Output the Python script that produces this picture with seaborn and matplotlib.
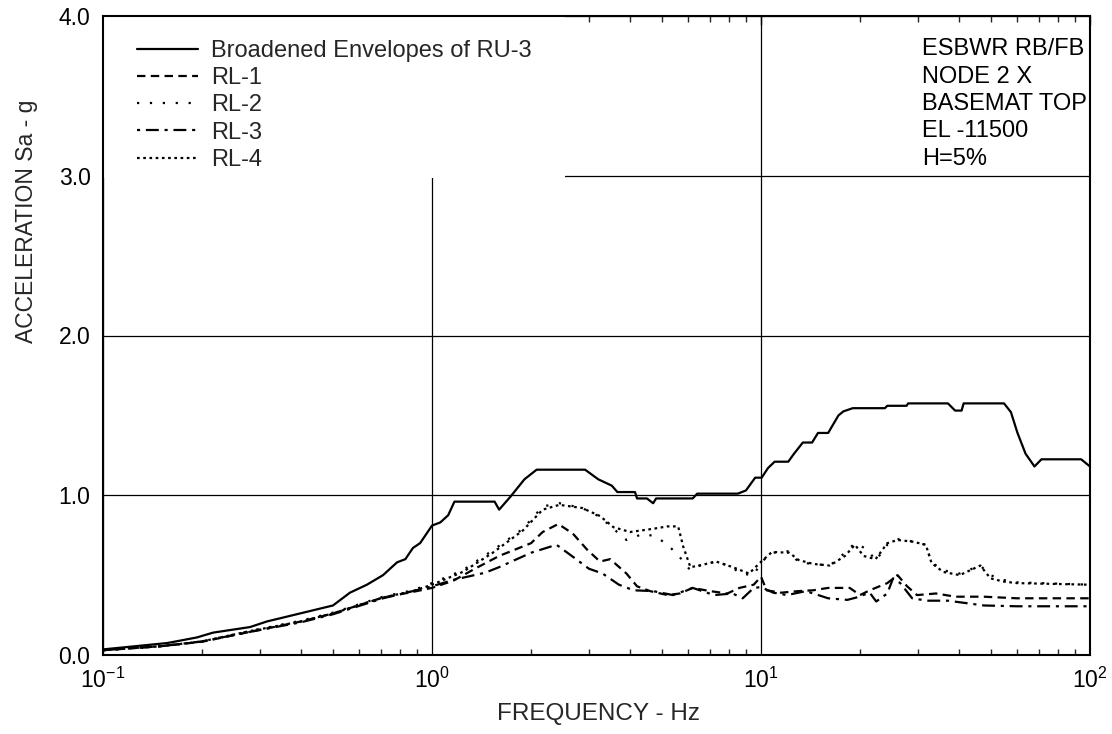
import numpy as np
import matplotlib
matplotlib.use("Agg")
import matplotlib.pyplot as plt
from matplotlib.patches import Rectangle
import seaborn as sns

# ---------------- data ----------------
ru3_freq = [0.1, 0.157, 0.193, 0.216, 0.28, 0.315, 0.397, 0.5, 0.563, 0.634, 0.71, 0.783, 0.83,
            0.875, 0.92, 1.0, 1.06, 1.12, 1.17, 1.55, 1.6, 1.73, 1.91, 2.08, 2.92, 3.2, 3.52, 3.66,
            4.14, 4.2, 4.5, 4.7, 4.8, 6.2, 6.4, 8.5, 9.0, 9.6, 10.05, 10.5, 11.0, 12.1, 12.6, 13.4,
            14.3, 14.9, 16.0, 17.2, 17.8, 19.0, 23.8, 24.2, 27.7, 28.0, 37.0, 38.9, 40.7, 41.3,
            54.8, 57.5, 60.2, 63.7, 67.8, 71.2, 94.0, 100.0]
ru3_acc = [0.035, 0.075, 0.11, 0.14, 0.175, 0.21, 0.26, 0.31, 0.39, 0.44, 0.50, 0.58, 0.60,
           0.67, 0.70, 0.81, 0.83, 0.875, 0.96, 0.96, 0.91, 0.99, 1.10, 1.16, 1.16, 1.10, 1.06, 1.02,
           1.02, 0.98, 0.98, 0.95, 0.98, 0.98, 1.01, 1.01, 1.03, 1.11, 1.11, 1.17, 1.21, 1.21, 1.26, 1.33,
           1.33, 1.39, 1.39, 1.50, 1.525, 1.545, 1.545, 1.56, 1.56, 1.575, 1.575, 1.53, 1.53, 1.575,
           1.575, 1.52, 1.39, 1.26, 1.18, 1.225, 1.225, 1.18]

rl1_freq = [0.1, 0.15, 0.2, 0.28, 0.4, 0.5, 0.71, 0.875, 1.0, 1.16, 1.35, 1.6, 2.0, 2.17, 2.42,
            2.68, 2.96, 3.24, 3.48, 3.9, 4.2, 4.6, 5.2, 5.66, 6.2, 7.0, 7.9, 8.6, 9.5, 10.0, 10.4,
            11.5, 13.0, 14.4, 16.0, 18.6, 20.0, 21.4, 24.2, 26.0, 27.8, 29.8, 34.0, 39.0, 47.6, 60.0, 100.0]
rl1_acc = [0.03, 0.055, 0.083, 0.145, 0.21, 0.26, 0.36, 0.395, 0.42, 0.465, 0.54, 0.62, 0.70, 0.77, 0.82,
           0.76, 0.66, 0.585, 0.60, 0.51, 0.43, 0.40, 0.375, 0.385, 0.42, 0.40, 0.385, 0.42, 0.44, 0.49, 0.405,
           0.39, 0.40, 0.405, 0.42, 0.42, 0.375, 0.405, 0.45, 0.50, 0.43, 0.375, 0.385, 0.365, 0.365, 0.355, 0.355]

rl2_freq = [0.1, 0.15, 0.2, 0.28, 0.4, 0.5, 0.71, 0.875, 1.0, 1.24, 1.53, 1.89, 2.17, 2.44, 2.86,
            3.24, 3.56, 3.9, 4.4, 4.8, 5.2, 5.6, 6.1, 6.5, 7.3, 8.2, 8.6, 9.5, 10.0, 10.8, 12.2, 13.0,
            14.4, 16.2, 18.0, 19.3, 21.1, 22.3, 24.2, 26.5, 28.8, 31.7, 33.0, 35.8, 40.2, 46.4, 49.8,
            54.5, 60.0, 100.0]
rl2_acc = [0.03, 0.055, 0.085, 0.15, 0.215, 0.265, 0.365, 0.405, 0.45, 0.53, 0.655, 0.79, 0.93, 0.95, 0.92,
           0.865, 0.79, 0.72, 0.76, 0.74, 0.69, 0.625, 0.53, 0.56, 0.585, 0.55, 0.51, 0.50, 0.58, 0.64, 0.65, 0.58,
           0.57, 0.56, 0.64, 0.70, 0.66, 0.59, 0.69, 0.73, 0.71, 0.69, 0.58, 0.53, 0.51, 0.56, 0.50,
           0.47, 0.455, 0.44]

rl3_freq = [0.1, 0.15, 0.2, 0.28, 0.4, 0.5, 0.71, 0.875, 1.0, 1.16, 1.45, 1.6, 2.0, 2.39, 2.68, 3.0,
            3.3, 3.7, 4.1, 4.7, 5.4, 6.2, 7.2, 8.2, 8.8, 9.5, 10.0, 10.9, 12.0, 13.7, 16.0, 18.3, 19.5,
            21.4, 22.4, 24.2, 25.2, 26.5, 28.8, 32.0, 37.0, 47.6, 60.0, 100.0]
rl3_acc = [0.03, 0.055, 0.085, 0.145, 0.205, 0.255, 0.355, 0.40, 0.43, 0.47, 0.515, 0.55, 0.64, 0.69, 0.615, 0.54,
           0.51, 0.44, 0.405, 0.40, 0.375, 0.42, 0.375, 0.385, 0.355, 0.42, 0.425, 0.39, 0.375, 0.40, 0.355, 0.345, 0.36,
           0.39, 0.335, 0.385, 0.48, 0.45, 0.355, 0.34, 0.34, 0.31, 0.305, 0.305]

rl4_freq = [0.1, 0.15, 0.2, 0.28, 0.4, 0.5, 0.71, 0.875, 1.0, 1.24, 1.53, 1.89, 2.17, 2.44, 2.86,
            3.24, 3.56, 4.0, 4.7, 5.2, 5.6, 5.8, 6.1, 6.5, 7.3, 8.2, 9.2, 9.9, 10.8, 12.2, 13.0, 14.4,
            16.2, 18.0, 19.3, 20.5, 22.3, 24.2, 26.0, 28.8, 31.7, 33.0, 35.8, 40.2, 46.4, 49.8, 54.5,
            60.0, 100.0]
rl4_acc = [0.03, 0.055, 0.085, 0.15, 0.21, 0.26, 0.36, 0.40, 0.44, 0.52, 0.64, 0.78, 0.91, 0.94, 0.92,
           0.87, 0.80, 0.77, 0.79, 0.805, 0.805, 0.68, 0.55, 0.56, 0.585, 0.55, 0.51, 0.575, 0.645, 0.64, 0.595, 0.57,
           0.56, 0.62, 0.69, 0.62, 0.60, 0.70, 0.72, 0.71, 0.69, 0.575, 0.52, 0.50, 0.56, 0.48, 0.46,
           0.45, 0.44]

series_names = ["Broadened Envelopes of RU-3", "RL-1", "RL-2", "RL-3", "RL-4"]
note_lines = ["ESBWR RB/FB", "NODE 2 X", "BASEMAT TOP", "EL -11500", "H=5%"]
y_ticks = [0.0, 1.0, 2.0, 3.0, 4.0]
x_label = "FREQUENCY - Hz"
y_label = "ACCELERATION Sa - g"

# ---------------- style ----------------
sns.set_style("white")
plt.rcParams["font.family"] = ["Liberation Sans", "DejaVu Sans"]
plt.rcParams["mathtext.fontset"] = "custom"
plt.rcParams["mathtext.rm"] = "Liberation Sans"
plt.rcParams["mathtext.it"] = "Liberation Sans"
plt.rcParams["axes.unicode_minus"] = False

fig = plt.figure(figsize=(11.12, 7.34), dpi=100)
ax = fig.add_axes([103 / 1112, 1 - 655 / 734, 987 / 1112, 639 / 734])

styles = [
    "-",
    (0, (3.8, 2.4)),
    (0, (1.0, 4.8)),
    (0, (1.4, 2.6, 5.8, 2.6)),
    (0, (1.2, 1.6)),
]
data = [(ru3_freq, ru3_acc), (rl1_freq, rl1_acc), (rl2_freq, rl2_acc),
        (rl3_freq, rl3_acc), (rl4_freq, rl4_acc)]

for (f, a), name, ls in zip(data, series_names, styles):
    sns.lineplot(x=np.array(f), y=np.array(a), ax=ax, color="black", linewidth=1.6,
                 linestyle=ls, label=name, estimator=None, sort=False, zorder=3)

ax.set_xscale("log")
ax.set_xlim(0.1, 100)
ax.set_ylim(0, 4)
ax.set_yticks(y_ticks)
ax.set_yticklabels([f"{v:.1f}" for v in y_ticks])

ax.grid(True, which="major", color="black", linewidth=0.9)
ax.grid(False, which="minor")

for s in ax.spines.values():
    s.set_visible(True)
    s.set_color("black")
    s.set_linewidth(1.5)

ax.tick_params(axis="both", which="major", direction="in", length=6.5, width=1.0,
               top=True, right=False, labelsize=16.5, pad=9, colors="black")
ax.tick_params(axis="x", which="minor", direction="in", length=4.3, width=1.0,
               top=True, bottom=True)
ax.tick_params(axis="y", which="minor", left=False, right=False)

# white box behind legend (covers the grid)
ax.add_patch(Rectangle((0, (655 - 178) / 639), (565 - 103) / 987, 1 - (655 - 178) / 639,
                       transform=ax.transAxes, facecolor="white", edgecolor="none",
                       zorder=1.8))

handles, labels = ax.get_legend_handles_labels()
leg = ax.legend(handles, labels, loc="upper left", bbox_to_anchor=((137 - 103) / 987, (655 - 40) / 639),
                frameon=False, fontsize=17, handlelength=2.58, handletextpad=0.55,
                labelspacing=0.22, borderpad=0, borderaxespad=0)

note_base = [55, 83, 110, 137, 165]
for txt, yb in zip(note_lines, note_base):
    ax.text((922 - 103) / 987, (655 - yb) / 639, txt, transform=ax.transAxes,
            fontsize=17, ha="left", va="baseline", color="black", clip_on=False, zorder=5)

ax.set_xlabel(x_label, fontsize=17.5)
ax.set_ylabel(y_label, fontsize=16.5)
ax.xaxis.set_label_coords(0.5025, -0.075)
ax.yaxis.set_label_coords(-0.066, 0.678)

fig.savefig("out.png", dpi=100, facecolor="white")
